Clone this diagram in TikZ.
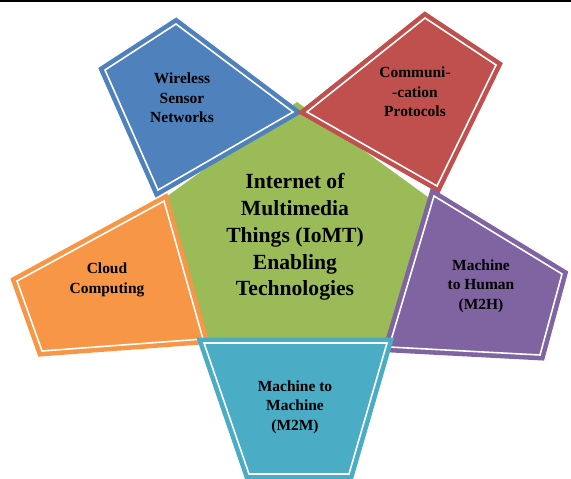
\documentclass[tikz,border=0pt]{standalone}
\usepackage{fontspec}
\setmainfont{Liberation Serif}
\definecolor{iotblue}{HTML}{4F81BD}
\definecolor{iotred}{HTML}{C0504D}
\definecolor{iotgreen}{HTML}{9BBB59}
\definecolor{iotpurple}{HTML}{8064A2}
\definecolor{iotteal}{HTML}{4BACC6}
\definecolor{iotorange}{HTML}{F79646}

\begin{document}
\begin{tikzpicture}[x=0.02cm,y=-0.02cm,
    petal/.style={fill=#1,draw=#1,double=white,double distance=0.9pt,
        line width=2.6pt,line join=miter},
    petaltext/.style={align=center,font=\bfseries\fontsize{8.8}{11}\selectfont},
    %hubtext/.style={align=center,font=\bfseries\large},
]
    \useasboundingbox (0,0) rectangle (571,479);
    \fill[black] (0,0) rectangle (571,2);

    % centre pentagon
    \fill[iotgreen] (297,102) -- (432,200) -- (380.5,359) -- (213.5,359) -- (162,200) -- cycle;

    % petals
    \draw[petal=iotblue] (176,24) -- (105,70) -- (158,190) -- (293,112) -- cycle;
    \draw[petal=iotred] (425,18) -- (496,65) -- (437,186) -- (307,112) -- cycle;
    \draw[petal=iotorange] (164,201) -- (17,281) -- (42,351) -- (203,339) -- cycle;
    \draw[petal=iotpurple] (434,196) -- (562,274) -- (540,355) -- (389,347) -- cycle;
    \draw[petal=iotteal] (204,343) -- (387,343) -- (349,474) -- (249,474) -- cycle;

    % texts
    \node[align=center,font=\bfseries\fontsize{12.3}{15.3}\selectfont] (hub) at (295,237)
        {Internet of\\Multimedia\\Things (IoMT)\\Enabling\\Technologies};
    \node[petaltext] (wsn) at (182,98) {Wireless\\Sensor\\Networks};
    \node[petaltext] (comm) at (415,92) {Communi-\\-cation\\Protocols};
    \node[petaltext] (cloud) at (107,280) {Cloud\\Computing};
    \node[petaltext] (mth) at (481,286) {Machine\\to Human\\(M2H)};
    \node[petaltext] (mtm) at (295,407) {Machine to\\Machine\\(M2M)};
\end{tikzpicture}
\end{document}
